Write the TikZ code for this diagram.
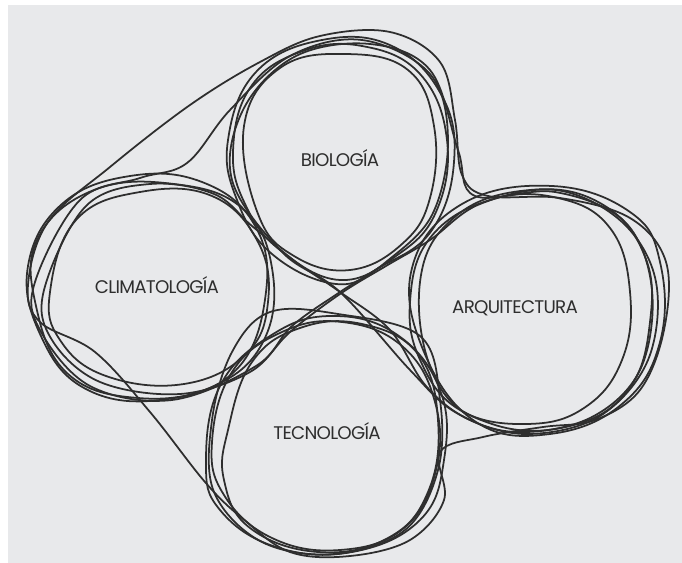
\documentclass[tikz,border=0pt]{standalone}
\usepackage{fontspec}
\setmainfont{Poppins}[LetterSpace=-4]
\usepackage{xcolor}
\definecolor{paper}{HTML}{E8E9EB}
\definecolor{ink}{HTML}{2E2E2E}

\begin{document}
\begin{tikzpicture}[x=0.025cm, y=-0.025cm,
        loopline/.style={draw=ink, line width=1.25pt},
        label/.style={text=ink, font=\fontsize{13}{15}\selectfont, inner sep=0pt}]

        % page
        \useasboundingbox (0,0) rectangle (682,563);
        \fill[white] (0,0) rectangle (682,563);
        \fill[paper] (8,5) rectangle (682,563);

        % labels
        \node[label] (bio) at (340,158) {BIOLOGÍA};
        \node[label] (cli) at (157,285) {CLIMATOLOGÍA};
        \node[label] (arq) at (515,308) {ARQUITECTURA};
        \node[label] (tec) at (327,431) {TECNOLOGÍA};

        % outer loop round all four
        \draw[loopline] plot[smooth cycle, tension=0.6] coordinates {
            (28,285) (48,222) (110,167) (190,105) (260,62) (320,36) (390,32)
            (440,62) (455,120) (462,175) (488,196) (560,198) (630,218)
            (666,262) (664,330) (640,390) (595,420) (543,427) (483,437)
            (440,452) (444,500) (410,540) (350,556) (290,552) (242,518)
            (205,482) (150,412) (95,352) (40,322)};

        % biologia
        \draw[loopline] plot[smooth cycle, tension=0.7] coordinates {
            (233,152) (250,88) (300,52) (362,46) (420,74) (447,140)
            (436,212) (396,256) (340,280) (280,250) (246,206)};
        \draw[loopline] plot[smooth cycle, tension=0.7] coordinates {
            (228,140) (256,72) (322,40) (392,46) (442,96) (454,162)
            (432,230) (382,266) (336,284) (272,254) (237,200)};
        \draw[loopline] plot[smooth cycle, tension=0.7] coordinates {
            (244,126) (280,68) (345,54) (408,70) (434,126) (430,198)
            (402,244) (350,270) (294,256) (258,214)};

        % climatologia
        \draw[loopline] plot[smooth cycle, tension=0.7] coordinates {
            (50,292) (76,220) (140,192) (212,196) (258,242) (268,302)
            (246,354) (184,384) (106,376) (60,340)};
        \draw[loopline] plot[smooth cycle, tension=0.7] coordinates {
            (28,266) (62,204) (130,176) (202,182) (254,224) (266,292)
            (236,370) (160,400) (84,388) (40,334)};
        \draw[loopline] plot[smooth cycle, tension=0.7] coordinates {
            (38,238) (94,190) (174,184) (242,208) (272,268) (264,340)
            (214,386) (138,398) (68,374) (36,306)};

        % arquitectura
        \draw[loopline] plot[smooth cycle, tension=0.7] coordinates {
            (410,302) (430,238) (490,200) (558,198) (610,228) (630,292)
            (622,360) (584,408) (526,424) (460,410) (421,362)};
        \draw[loopline] plot[smooth cycle, tension=0.7] coordinates {
            (420,282) (456,216) (530,190) (600,203) (644,254) (650,322)
            (628,390) (570,426) (492,424) (436,380)};
        \draw[loopline] plot[smooth cycle, tension=0.7] coordinates {
            (412,268) (462,204) (552,186) (630,212) (660,262) (660,342)
            (622,404) (550,434) (476,422) (424,352)};

        % tecnologia
        \draw[loopline] plot[smooth cycle, tension=0.7] coordinates {
            (212,442) (232,372) (282,332) (342,322) (402,346) (435,402)
            (436,470) (404,528) (340,550) (272,538) (224,495)};
        \draw[loopline] plot[smooth cycle, tension=0.7] coordinates {
            (206,462) (220,386) (270,336) (330,316) (396,334) (440,390)
            (444,460) (420,520) (352,552) (276,547) (220,510)};
        \draw[loopline] plot[smooth cycle, tension=0.7] coordinates {
            (228,430) (252,362) (300,328) (362,324) (418,354) (438,420)
            (428,492) (388,538) (318,552) (250,528) (224,480)};

        % loops that cross in the middle
        \draw[loopline] plot[smooth cycle, tension=0.6] coordinates {
            (35,282) (80,200) (140,178) (187,163) (230,110) (290,56)
            (362,40) (430,74) (448,140) (432,215) (386,262) (340,292)
            (292,326) (256,366) (172,400) (90,386) (40,330)};
        \draw[loopline] plot[smooth cycle, tension=0.6] coordinates {
            (44,290) (86,206) (150,184) (214,194) (252,226) (296,262)
            (340,292) (390,330) (426,386) (470,420) (530,434) (600,416)
            (648,360) (656,282) (622,222) (556,190) (480,204) (430,240)
            (386,266) (340,294) (290,332) (250,372) (180,394) (100,382)
            (52,340)};
        \draw[loopline] plot[smooth cycle, tension=0.6] coordinates {
            (232,180) (244,108) (296,56) (370,44) (430,70) (458,150)
            (475,196) (555,192) (625,222) (652,290) (640,370) (590,418)
            (515,432) (455,412) (410,370) (340,292) (282,252)};
        \draw[loopline] plot[smooth cycle, tension=0.6] coordinates {
            (270,312) (338,314) (420,336) (440,400) (438,470) (405,530)
            (335,554) (262,542) (214,492) (212,420) (232,352)};

    \end{tikzpicture}
\end{document}
